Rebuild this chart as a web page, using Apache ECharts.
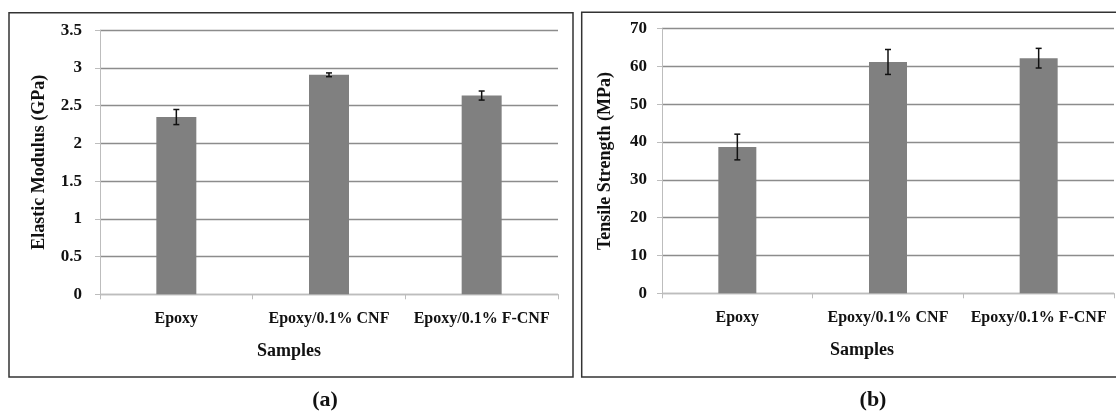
<!DOCTYPE html>
<html>
<head>
<meta charset="utf-8">
<script src="https://cdn.jsdelivr.net/npm/echarts@6/dist/echarts.min.js"></script>
<style>
html,body{margin:0;padding:0;background:#fff;}
#c{width:1116px;height:414px;}
</style>
</head>
<body>
<div id="c"></div>
<script>
const categories = ['Epoxy', 'Epoxy/0.1% CNF', 'Epoxy/0.1% F-CNF'];
const modulus = [2.35, 2.91, 2.635];
const modulusErr = [0.10, 0.025, 0.06];
const strength = [38.7, 61.2, 62.2];
const strengthErr = [3.4, 3.3, 2.6];
const modulusTicks = ['0', '0.5', '1', '1.5', '2', '2.5', '3', '3.5'];
const strengthTicks = ['0', '10', '20', '30', '40', '50', '60', '70'];

const FONT = '"Liberation Serif", "Times New Roman", serif';
const TXT = '#111';

function errRender(params, api) {
  const x = api.value(0), y = api.value(1), e = api.value(2);
  const t = api.coord([x, y + e]);
  const b = api.coord([x, y - e]);
  const hw = 3;
  const st = { stroke: '#111', lineWidth: 1.5 };
  return {
    type: 'group',
    children: [
      { type: 'line', shape: { x1: t[0], y1: t[1], x2: b[0], y2: b[1] }, style: st },
      { type: 'line', shape: { x1: t[0] - hw, y1: t[1], x2: t[0] + hw, y2: t[1] }, style: st },
      { type: 'line', shape: { x1: b[0] - hw, y1: b[1], x2: b[0] + hw, y2: b[1] }, style: st }
    ]
  };
}

function xAxisCfg(idx, padR) {
  return {
    type: 'category', gridIndex: idx, data: categories,
    name: 'Samples', nameLocation: 'middle', nameGap: 48,
    nameTextStyle: { fontFamily: FONT, fontWeight: 'bold', fontSize: 18, color: TXT, padding: [0, padR, 0, 0] },
    axisLine: { show: true, lineStyle: { color: '#bdbdbd', width: 1 } },
    axisTick: { show: true, length: 5, lineStyle: { color: '#bdbdbd' } },
    axisLabel: { fontFamily: FONT, fontWeight: 'bold', fontSize: 16, color: TXT, margin: 17,
      interval: 0, hideOverlap: false },
    splitLine: { show: false }
  };
}

function yAxisCfg(idx, name, max, interval, ticks, gap, margin) {
  return {
    type: 'value', gridIndex: idx, min: 0, max: max, interval: interval,
    name: name, nameLocation: 'middle', nameGap: gap,
    nameTextStyle: { fontFamily: FONT, fontWeight: 'bold', fontSize: 18, color: TXT },
    axisLine: { show: true, lineStyle: { color: '#bdbdbd', width: 1 } },
    axisTick: { show: true, length: 5, lineStyle: { color: '#bdbdbd' } },
    axisLabel: {
      fontFamily: FONT, fontWeight: 'bold', fontSize: 17, color: TXT, margin: margin,
      formatter: function (v) { return ticks[Math.round(v / interval)]; }
    },
    splitLine: { show: true, lineStyle: { color: '#8c8c8c', width: 1.3 } }
  };
}

const chart = echarts.init(document.getElementById('c'), null, { renderer: 'canvas' });
chart.setOption({
  backgroundColor: '#fff',
  animation: false,
  grid: [
    { left: 100, right: 1116 - 558, top: 30.3, bottom: 414 - 294.3 },
    { left: 662, right: 2, top: 28.7, bottom: 414 - 293.3 }
  ],
  xAxis: [xAxisCfg(0, 80), xAxisCfg(1, 52)],
  yAxis: [
    yAxisCfg(0, 'Elastic Modulus (GPa)', 3.5, 0.5, modulusTicks, 52, 18),
    yAxisCfg(1, 'Tensile Strength (MPa)', 70, 10, strengthTicks, 48, 15)
  ],
  series: [
    { type: 'bar', xAxisIndex: 0, yAxisIndex: 0, data: modulus, barWidth: 40,
      itemStyle: { color: '#808080' } },
    { type: 'custom', xAxisIndex: 0, yAxisIndex: 0, renderItem: errRender,
      data: modulus.map((v, i) => [i, v, modulusErr[i]]), z: 5 },
    { type: 'bar', xAxisIndex: 1, yAxisIndex: 1, data: strength, barWidth: 38,
      itemStyle: { color: '#808080' } },
    { type: 'custom', xAxisIndex: 1, yAxisIndex: 1, renderItem: errRender,
      data: strength.map((v, i) => [i, v, strengthErr[i]]), z: 5 }
  ],
  graphic: [
    { type: 'rect', shape: { x: 9, y: 12.7, width: 564, height: 364.3 },
      style: { fill: 'none', stroke: '#333', lineWidth: 1.5 }, z: 10 },
    { type: 'rect', shape: { x: 581.7, y: 12.3, width: 545, height: 364.7 },
      style: { fill: 'none', stroke: '#333', lineWidth: 1.5 }, z: 10 },
    { type: 'text', x: 325, y: 400,
      style: { text: '(a)', fontFamily: FONT, fontWeight: 'bold', fontSize: 22, fill: TXT, align: 'center', verticalAlign: 'middle' } },
    { type: 'text', x: 873, y: 400,
      style: { text: '(b)', fontFamily: FONT, fontWeight: 'bold', fontSize: 22, fill: TXT, align: 'center', verticalAlign: 'middle' } }
  ]
});
</script>
</body>
</html>
